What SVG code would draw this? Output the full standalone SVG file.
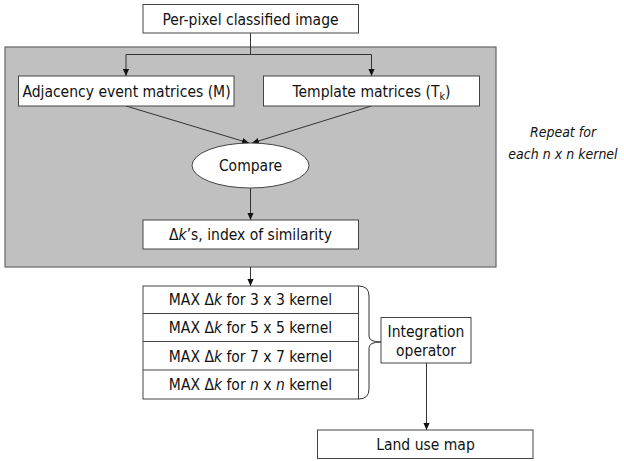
<svg xmlns="http://www.w3.org/2000/svg" width="624" height="461" viewBox="0 0 624 461">
  <defs>
    <marker id="arrow" viewBox="0 0 8 8" refX="8" refY="4" markerWidth="7" markerHeight="7" markerUnits="userSpaceOnUse" orient="auto">
      <path d="M0,0.5 L8,4 L0,7.5 Z" fill="#111"/>
    </marker>
    <style>
      .box { fill: #fff; stroke: #444; stroke-width: 1; }
      .panel { fill: #c0c0c0; stroke: #666; stroke-width: 1.2; }
      .lbl { font-family: "DejaVu Sans Condensed", "DejaVu Sans", sans-serif; font-size: 15.5px; fill: #111; text-anchor: middle; }
      .it { font-style: italic; }
      .note { font-size: 14px; }
      .conn path, .conn line { fill: none; stroke: #333; stroke-width: 1; }
    </style>
  </defs>

  <rect width="624" height="461" fill="#fff"/>

  <!-- repeat loop panel -->
  <g id="repeat-panel">
    <rect class="panel" x="5" y="47" width="491" height="220"/>
  </g>

  <!-- connectors -->
  <g class="conn">
    <path d="M250.5,33 V54.5 H126 V76" marker-end="url(#arrow)"/>
    <path d="M250.5,54.5 H371.5 V76" marker-end="url(#arrow)"/>
    <line x1="126" y1="106" x2="249" y2="143" marker-end="url(#arrow)"/>
    <line x1="371.5" y1="106" x2="252" y2="143" marker-end="url(#arrow)"/>
    <line x1="250.5" y1="188" x2="250.5" y2="220" marker-end="url(#arrow)"/>
    <line x1="250.5" y1="267" x2="250.5" y2="286" marker-end="url(#arrow)"/>
    <line x1="426.5" y1="363" x2="426.5" y2="430" marker-end="url(#arrow)"/>
    <path d="M358.5,286 Q369,286 369,296 V336 Q369,342 381,342 Q369,342 369,348 V389 Q369,399 358.5,399"/>
  </g>

  <g id="classified-image">
    <rect class="box" x="143" y="4.5" width="215.5" height="28.5"/>
    <text class="lbl" x="250.5" y="24.5">Per-pixel classified image</text>
  </g>

  <g id="adjacency-matrices">
    <rect class="box" x="18.5" y="76" width="215.5" height="30"/>
    <text class="lbl" x="126.5" y="97">Adjacency event matrices (M)</text>
  </g>

  <g id="template-matrices">
    <rect class="box" x="263.5" y="76" width="216" height="30"/>
    <text class="lbl" x="371.5" y="97">Template matrices (T<tspan font-size="10.5" dy="3">k</tspan><tspan dy="-3">)</tspan></text>
  </g>

  <g id="compare">
    <ellipse class="box" cx="250.5" cy="165.5" rx="58.5" ry="22.5"/>
    <text class="lbl" x="250.5" y="171">Compare</text>
  </g>

  <g id="similarity-index">
    <rect class="box" x="143" y="220" width="215.5" height="29"/>
    <text class="lbl" x="250.5" y="240">Δ<tspan class="it">k</tspan>’s, index of similarity</text>
  </g>

  <g id="max-kernels">
    <rect class="box" x="143" y="286" width="215.5" height="113"/>
    <line x1="143" y1="313.5" x2="358.5" y2="313.5" stroke="#444"/>
    <line x1="143" y1="341.5" x2="358.5" y2="341.5" stroke="#444"/>
    <line x1="143" y1="370" x2="358.5" y2="370" stroke="#444"/>
    <text class="lbl" x="250.5" y="305">MAX Δ<tspan class="it">k</tspan> for 3 x 3 kernel</text>
    <text class="lbl" x="250.5" y="333">MAX Δ<tspan class="it">k</tspan> for 5 x 5 kernel</text>
    <text class="lbl" x="250.5" y="361.5">MAX Δ<tspan class="it">k</tspan> for 7 x 7 kernel</text>
    <text class="lbl" x="250.5" y="390">MAX Δ<tspan class="it">k</tspan> for <tspan class="it">n</tspan> x <tspan class="it">n</tspan> kernel</text>
  </g>

  <g id="integration-operator">
    <rect class="box" x="381" y="317.5" width="90" height="45.5"/>
    <text class="lbl" x="426" y="337">Integration</text>
    <text class="lbl" x="426" y="355.5">operator</text>
  </g>

  <g id="land-use-map">
    <rect class="box" x="317.5" y="430" width="215.5" height="28.5"/>
    <text class="lbl" x="425.5" y="450">Land use map</text>
  </g>

  <g id="repeat-note">
    <text class="lbl it note" x="563" y="137">Repeat for</text>
    <text class="lbl it note" x="563" y="159">each n x n kernel</text>
  </g>
</svg>
